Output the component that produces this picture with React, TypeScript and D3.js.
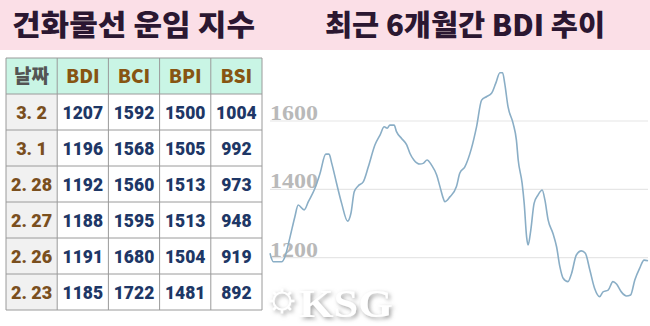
import React from "react";
import * as d3 from "d3";

const titleLeft = "건화물선 운임 지수";
const titleRight = "최근 6개월간 BDI 추이";

const headers = ["날짜", "BDI", "BCI", "BPI", "BSI"];
const dates = ["3. 2", "3. 1", "2. 28", "2. 27", "2. 26", "2. 23"];
const bdiCol = [1207, 1196, 1192, 1188, 1191, 1185];
const bciCol = [1592, 1568, 1560, 1595, 1680, 1722];
const bpiCol = [1500, 1505, 1513, 1513, 1504, 1481];
const bsiCol = [1004, 992, 973, 948, 919, 892];

const yTicks = [1200, 1400, 1600];

// trading-day index and BDI values over the last six months
const days = [0, 1.1, 3.9, 5, 6.7, 8.3, 9.4, 11.4, 12.8, 15, 16.7, 18.6, 19.7, 20.6, 22.2, 23.9, 25.9, 27, 28.1, 29.4, 31.1, 32.8, 35, 36.7, 38.1, 39.1, 40, 41.4, 42.2, 43.9, 45.6, 46.7, 48, 50, 51.1, 52.4, 53.9, 55.6, 56.7, 57.8, 58.3, 60, 62.2, 63.3, 65, 67.2, 68.9, 70.6, 72.2, 73.9, 75.3, 76.7, 77.6, 78.3, 79.4, 81.1, 82.2, 82.8, 84.1, 84.8, 85.6, 86.1, 87, 88.1, 89.4, 90.8, 91.7, 92.8, 94.4, 95.6, 96.7, 97.8, 99.4, 100.6, 102.2, 103.9, 105.2, 106.7, 108.3, 110, 111.1, 112.8, 114.4, 115.6, 117.2, 118.9, 120.3, 121.7, 123.3, 124.8, 126.1];
const bdi = [1213, 1188, 1188, 1203, 1261, 1320, 1354, 1340, 1364, 1403, 1447, 1503, 1503, 1476, 1418, 1359, 1307, 1330, 1393, 1410, 1422, 1466, 1530, 1559, 1583, 1579, 1588, 1588, 1569, 1549, 1530, 1505, 1486, 1474, 1476, 1486, 1471, 1442, 1408, 1374, 1364, 1378, 1408, 1447, 1466, 1520, 1583, 1661, 1671, 1681, 1710, 1741, 1741, 1710, 1642, 1593, 1544, 1486, 1418, 1359, 1261, 1237, 1281, 1359, 1383, 1398, 1369, 1310, 1271, 1232, 1174, 1140, 1130, 1154, 1208, 1220, 1213, 1164, 1110, 1086, 1100, 1105, 1130, 1123, 1100, 1088, 1091, 1135, 1169, 1193, 1191];

const W = 650;
const H = 326;

export default function App() {
  const colX = d3.scaleBand<number>().domain(d3.range(5)).range([6, 262]);
  const rowY = d3.scaleBand<number>().domain(d3.range(7)).range([58, 310]);

  const x = d3.scaleLinear().domain([0, 126.1]).range([270, 648]);
  const y = d3.scaleLinear().domain([1200, 1600]).range([257.7, 121]);

  const pts: [number, number][] = days.map((d, i) => [d, bdi[i]]);
  const line = d3
    .line<[number, number]>()
    .x((d) => x(d[0]))
    .y((d) => y(d[1]))
    .curve(d3.curveMonotoneX);

  const cols = [bdiCol, bciCol, bpiCol, bsiCol];
  const bw = colX.bandwidth();
  const bh = rowY.bandwidth();

  return (
    <svg
      width={W}
      height={H}
      style={{ position: "absolute", left: 0, top: 0, display: "block" }}
    >
      <defs>
        <filter id="wm" x="-20%" y="-30%" width="140%" height="160%">
          <feGaussianBlur in="SourceAlpha" stdDeviation="2" />
          <feOffset dx="1.5" dy="1.5" result="b" />
          <feFlood floodColor="#9a9a9a" floodOpacity="0.9" />
          <feComposite in2="b" operator="in" result="s" />
          <feMerge>
            <feMergeNode in="s" />
            <feMergeNode in="SourceGraphic" />
          </feMerge>
        </filter>
      </defs>
      <rect x={0} y={0} width={W} height={H} fill="#ffffff" />
      <rect x={0} y={0} width={W} height={50} fill="#fbdfe7" />
      <text
        x={12}
        y={36}
        fontFamily="'Noto Sans CJK KR', sans-serif"
        fontWeight={900}
        fontSize={29}
        fill="#2b1731"
        textLength={243}
        lengthAdjust="spacingAndGlyphs"
      >
        {titleLeft}
      </text>
      <text
        x={325}
        y={36}
        fontFamily="'Noto Sans CJK KR', sans-serif"
        fontWeight={900}
        fontSize={29}
        fill="#2b1731"
        textLength={280}
        lengthAdjust="spacingAndGlyphs"
      >
        {titleRight}
      </text>

      {/* Table */}
      <rect x={colX(0)} y={rowY(0)} width={256} height={bh} fill="#c9f5e5" />
      {d3.range(1, 7).map((r) => (
        <rect key={"dc" + r} x={colX(0)} y={rowY(r)} width={bw} height={bh} fill="#f1f1f1" />
      ))}
      {d3.range(0, 8).map((r) => {
        const yy = r < 7 ? rowY(r)! : 310;
        return (
          <line key={"hl" + r} x1={6} x2={262} y1={yy} y2={yy} stroke="#9a9a9a" strokeWidth={1} />
        );
      })}
      {d3.range(0, 6).map((c) => {
        const xx = c < 5 ? colX(c)! : 262;
        return (
          <line key={"vl" + c} x1={xx} x2={xx} y1={58} y2={310} stroke="#9a9a9a" strokeWidth={1} />
        );
      })}
      {headers.map((h, c) => (
        <text
          key={"h" + c}
          x={colX(c)! + bw / 2}
          y={rowY(0)! + bh / 2 + 7}
          textAnchor="middle"
          fontFamily="'Noto Sans CJK KR', sans-serif"
          fontWeight={900}
          fontSize={c === 0 ? 19 : 19}
          fill={c === 0 ? "#545454" : "#875512"}
        >
          {h}
        </text>
      ))}
      {dates.map((d, r) => (
        <text
          key={"d" + r}
          x={colX(0)! + bw / 2}
          y={rowY(r + 1)! + bh / 2 + 6.5}
          textAnchor="middle"
          fontFamily="Roboto, sans-serif"
          fontWeight={900}
          fontSize={18}
          fill="#7a4f1e"
        >
          {d}
        </text>
      ))}
      {cols.map((col, c) =>
        col.map((v, r) => (
          <text
            key={"v" + c + "-" + r}
            x={colX(c + 1)! + bw / 2}
            y={rowY(r + 1)! + bh / 2 + 6.5}
            textAnchor="middle"
            fontFamily="Roboto, sans-serif"
            fontWeight={900}
            fontSize={17.5}
            fill="#1e3766"
          >
            {v}
          </text>
        ))
      )}

      {/* Chart */}
      {yTicks.map((t) => (
        <g key={"g" + t}>
          <line x1={270} x2={648} y1={y(t)} y2={y(t)} stroke="#e6e6e6" strokeWidth={1.2} />
          <text
            x={270}
            y={y(t) - 1}
            fontFamily="'Liberation Serif', serif"
            fontWeight={700}
            fontSize={22}
            fill="#b9b9b9"
            textLength={48}
            lengthAdjust="spacingAndGlyphs"
          >
            {t}
          </text>
        </g>
      ))}
      <path d={line(pts) || ""} fill="none" stroke="#8aaec6" strokeWidth={1.6} />

      {/* Watermark */}
      <g filter="url(#wm)">
        <circle cx={282} cy={301} r={8.5} fill="none" stroke="#ffffff" strokeWidth={2} />
        {d3.range(8).map((k) => {
          const a = (k * Math.PI) / 4;
          return (
            <line
              key={"sp" + k}
              x1={282 + Math.cos(a) * 8.5}
              y1={301 + Math.sin(a) * 8.5}
              x2={282 + Math.cos(a) * 12.5}
              y2={301 + Math.sin(a) * 12.5}
              stroke="#ffffff"
              strokeWidth={2.5}
            />
          );
        })}
        <text
          x={299}
          y={317}
          fontFamily="'Liberation Serif', serif"
          fontWeight={700}
          fontSize={40}
          fill="#ffffff"
          textLength={94}
          lengthAdjust="spacingAndGlyphs"
        >
          KSG
        </text>
      </g>
    </svg>
  );
}
